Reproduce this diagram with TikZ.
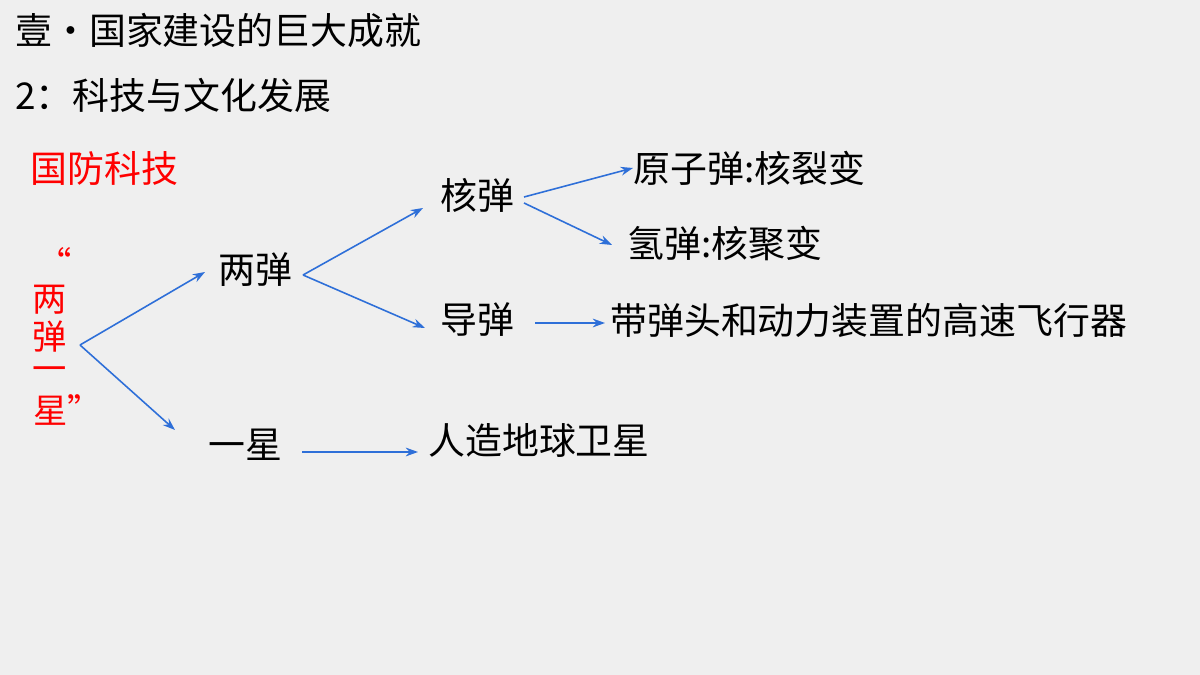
\documentclass[tikz,border=0pt]{standalone}
\usepackage{fontspec}
\setmainfont{Noto Sans CJK SC}
\usetikzlibrary{arrows.meta}
\definecolor{bg}{HTML}{EFEFEF}
\definecolor{ar}{HTML}{2E6FD8}
\begin{document}
\begin{tikzpicture}[x=0.02cm,y=-0.02cm,
  t/.style={inner sep=0pt,anchor=west,font=\fontsize{21}{24}\selectfont},
  h/.style={inner sep=0pt,anchor=west,font=\fontsize{21}{24}\selectfont},
  r/.style={inner sep=0pt,text=red,font=\fontsize{19.5}{22}\selectfont},
  arr/.style={ar,line width=0.9pt,-{Stealth[length=7pt,width=5pt]}}]
\fill[bg] (0,0) rectangle (1200,675);
\useasboundingbox (0,0) rectangle (1200,675);
\node[h] (title) at (15,30) {壹·国家建设的巨大成就};
\node[h] (sub) at (15,95) {2：科技与文化发展};
\node[h,text=red] (gf) at (30,168) {国防科技};
\node[r] (q1) at (55,262) {“};
\node[r] (c1) at (50,300) {两};
\node[r] (c2) at (50,337) {弹};
\node[r] (c3) at (50,374) {一};
\node[r,anchor=west] (c4) at (33,410) {星”};
\node[t] (ld) at (218,270) {两弹};
\node[t] (yx) at (208,445) {一星};
\node[t] (hd) at (440,195) {核弹};
\node[t] (dd) at (440,320) {导弹};
\node[t] (yzd) at (633,168) {原子弹:核裂变};
\node[t] (qd) at (627,243) {氢弹:核聚变};
\node[t] (fxq) at (610,320) {带弹头和动力装置的高速飞行器};
\node[t] (wx) at (428,440) {人造地球卫星};
\coordinate (o1) at (80,345);
\draw[arr] (o1) -- ([shift={(-13,2)}]ld.west);
\draw[arr] (o1) -- ([shift={(-33,-15)}]yx.west);
\draw[arr] ([shift={(85,5)}]ld.west) -- ([shift={(-17,13)}]hd.west);
\draw[arr] ([shift={(85,5)}]ld.west) -- ([shift={(-15,8)}]dd.west);
\draw[arr] ([shift={(84,2)}]hd.west) -- (yzd.west);
\draw[arr] ([shift={(84,8)}]hd.west) -- ([shift={(-15,2)}]qd.west);
\draw[arr] ([shift={(95,3)}]dd.west) -- ([shift={(-5,3)}]fxq.west);
\draw[arr] ([shift={(94,7)}]yx.west) -- ([shift={(-10,12)}]wx.west);
\end{tikzpicture}
\end{document}
